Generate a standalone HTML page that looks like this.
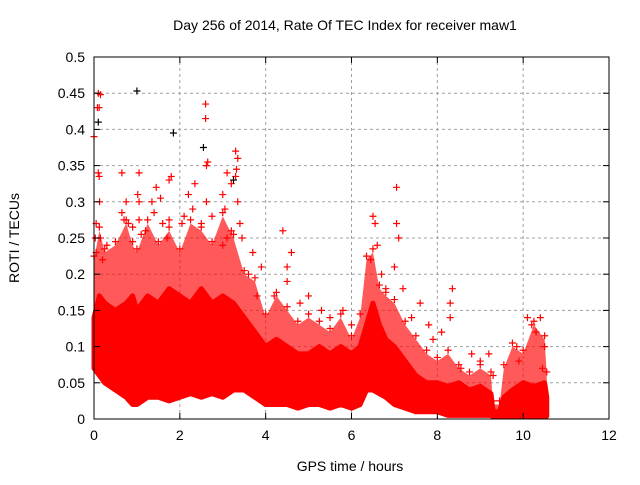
<!DOCTYPE html>
<html><head><meta charset="utf-8"><style>
body{margin:0;background:#fff}
svg text{font-family:"Liberation Sans",sans-serif;font-size:14px;fill:#000}
</style></head><body>
<svg id="chart" width="640" height="480" xmlns="http://www.w3.org/2000/svg">
<text x="345" y="30" text-anchor="middle">Day 256 of 2014, Rate Of TEC Index for receiver maw1</text>
<text x="350" y="471" text-anchor="middle">GPS time / hours</text>
<text x="19" y="238" text-anchor="middle" transform="rotate(-90 19 238)">ROTI / TECUs</text>
<g id="grid"></g><g id="band"></g><g id="pts"></g><g id="axes"></g>
</svg>
<script>
const xTicks=[0,2,4,6,8,10,12];
const yTicks=[0,0.05,0.1,0.15,0.2,0.25,0.3,0.35,0.4,0.45,0.5];
const yTickLabels=["0","0.05","0.1","0.15","0.2","0.25","0.3","0.35","0.4","0.45","0.5"];
const bandHours=[0,0.125,0.25,0.5,0.75,0.9,1,1.25,1.5,1.75,2,2.25,2.5,2.75,3,3.25,3.5,3.75,4,4.25,4.5,4.75,5,5.25,5.5,5.75,6,6.2,6.35,6.5,6.65,6.8,7,7.25,7.5,7.75,8,8.25,8.5,8.75,9,9.25,9.3,9.45,9.55,9.75,10,10.25,10.5,10.55];
const bandLow=[0.07,0.06,0.05,0.04,0.03,0.02,0.02,0.03,0.03,0.025,0.03,0.035,0.03,0.035,0.03,0.04,0.04,0.03,0.02,0.02,0.02,0.015,0.02,0.02,0.015,0.02,0.015,0.02,0.04,0.04,0.035,0.03,0.02,0.015,0.01,0.01,0.01,0.005,0.005,0.005,0.005,0.005,0.003,0.003,0.004,0.004,0.004,0.004,0.004,0.004];
const bandHigh=[0.14,0.17,0.16,0.15,0.16,0.17,0.15,0.17,0.16,0.18,0.17,0.16,0.18,0.16,0.17,0.16,0.14,0.12,0.1,0.11,0.1,0.09,0.09,0.1,0.09,0.1,0.09,0.1,0.13,0.16,0.13,0.11,0.1,0.08,0.06,0.05,0.05,0.045,0.05,0.04,0.045,0.035,0.01,0.01,0.03,0.04,0.05,0.045,0.05,0.03];
const bandOuter=[0.22,0.26,0.23,0.24,0.27,0.24,0.23,0.27,0.24,0.26,0.23,0.27,0.26,0.24,0.28,0.25,0.2,0.19,0.14,0.17,0.15,0.13,0.14,0.13,0.12,0.14,0.11,0.14,0.22,0.23,0.18,0.17,0.16,0.13,0.11,0.09,0.08,0.09,0.07,0.06,0.07,0.06,0.02,0.02,0.07,0.1,0.09,0.13,0.11,0.06];
const ptHours=[0,0.05,0.03,0.05,0.1,0.15,0.08,0.12,0.1,0.12,0.13,0.15,0.2,0.3,0.65,0.7,0.75,0.8,0.9,0.65,1.05,1.02,1.05,1.05,1.1,1.2,1.35,1.45,1.4,1.55,1.6,1.75,1.75,1.8,1.7,2.05,2.1,2.2,2.3,2.35,2.5,2.6,2.6,2.62,2.65,2.62,2.75,3.0,3.05,3.1,3.2,3.3,3.35,3.32,3.3,3.35,3.4,3.2,3.1,3.45,3.0,3.7,3.9,3.6,3.8,4.4,4.5,4.5,4.6,4.8,5.0,4.2,5.3,5.5,5.8,6.0,6.5,6.55,6.6,6.7,6.45,6.8,7.0,7.05,7.05,7.1,7.2,7.4,7.6,7.8,7.9,8.1,8.3,8.35,8.3,8.55,8.8,9.0,9.2,9.3,9.85,10.1,10.2,10.3,10.4,10.5,9.9,10.45];
const ptValues=[0.39,0.27,0.25,0.23,0.45,0.448,0.43,0.43,0.34,0.335,0.30,0.25,0.22,0.24,0.285,0.275,0.30,0.27,0.265,0.34,0.34,0.31,0.30,0.275,0.255,0.26,0.30,0.32,0.285,0.305,0.27,0.275,0.33,0.335,0.25,0.27,0.28,0.31,0.29,0.325,0.27,0.435,0.415,0.35,0.355,0.30,0.28,0.31,0.29,0.34,0.325,0.37,0.36,0.345,0.335,0.30,0.27,0.26,0.25,0.25,0.24,0.23,0.21,0.20,0.17,0.26,0.21,0.19,0.23,0.16,0.17,0.17,0.15,0.14,0.15,0.13,0.28,0.27,0.24,0.20,0.22,0.18,0.21,0.27,0.32,0.25,0.18,0.14,0.16,0.13,0.11,0.12,0.16,0.18,0.14,0.07,0.09,0.08,0.09,0.06,0.10,0.14,0.13,0.12,0.14,0.10,0.08,0.07];
const blackHours=[1.0,1.85,2.55,0.1,3.25];
const blackValues=[0.453,0.395,0.375,0.41,0.33];
const X0=94,X1=609,Y0=419,Y1=57;
const xs=h=>X0+(h/12)*(X1-X0);
const ys=v=>Y0-(v/0.5)*(Y0-Y1);
const NS="http://www.w3.org/2000/svg";
function mk(tag,parent,attrs){const e=document.createElementNS(NS,tag);for(const k in attrs)e.setAttribute(k,attrs[k]);document.getElementById(parent).appendChild(e);return e;}
xTicks.forEach(t=>{const x=xs(t);
 if(t>0&&t<12){const g=mk('line','grid',{x1:x,x2:x,y1:Y0,y2:Y1,stroke:'#a0a0a0','stroke-dasharray':'3,3'});
 
 }
 const l=mk('text','axes',{x:x,y:Y0+21,'text-anchor':'middle'});l.textContent=t;
 
 
 mk('line','axes',{x1:x,x2:x,y1:Y0,y2:Y0-6,stroke:'#000'});mk('line','axes',{x1:x,x2:x,y1:Y1,y2:Y1+6,stroke:'#000'});});
yTicks.forEach((t,i)=>{const y=ys(t);
 if(i>0&&i<yTicks.length-1){const g=mk('line','grid',{x1:X0,x2:X1,y1:y,y2:y,stroke:'#a0a0a0','stroke-dasharray':'3,3'});
 
 }
 const l=mk('text','axes',{x:X0-9,y:y+5,'text-anchor':'end'});l.textContent=yTickLabels[i];
 
 
 mk('line','axes',{x1:X0,x2:X0+6,y1:y,y2:y,stroke:'#000'});mk('line','axes',{x1:X1,x2:X1-6,y1:y,y2:y,stroke:'#000'});});
const fr=mk('rect','axes',{x:X0,y:Y1,width:X1-X0,height:Y0-Y1,fill:'none',stroke:'#000'});


function bandPath(top,bot){let d='';bandHours.forEach((h,i)=>{d+=(i?'L':'M')+xs(h)+','+ys(top[i]);});
 for(let i=bandHours.length-1;i>=0;i--)d+='L'+xs(bandHours[i])+','+ys(bot[i]);return d+'Z';}
const bo=mk('path','band',{d:bandPath(bandOuter,bandHigh),fill:'#ff0000','fill-opacity':0.65,stroke:'none'});


const b=mk('path','band',{d:bandPath(bandHigh,bandLow),fill:'#ff0000',stroke:'#ff0000','stroke-width':5,'stroke-linejoin':'round'});


function plus(h,v,c,name){const x=xs(h),y=ys(v);
 const p=mk('path','pts',{d:`M${x-3.5},${y}H${x+3.5}M${x},${y-3.5}V${y+3.5}`,stroke:c,'stroke-width':1.2});
 
 }
ptHours.forEach((h,i)=>plus(h,ptValues[i],'#ff0000','roti-point'));
bandHours.forEach((h,i)=>plus(h,bandOuter[i]+0.005,'#ff0000','roti-point'));
blackHours.forEach((h,i)=>plus(h,blackValues[i],'#000000','roti-point-black'));
</script>
</body></html>
